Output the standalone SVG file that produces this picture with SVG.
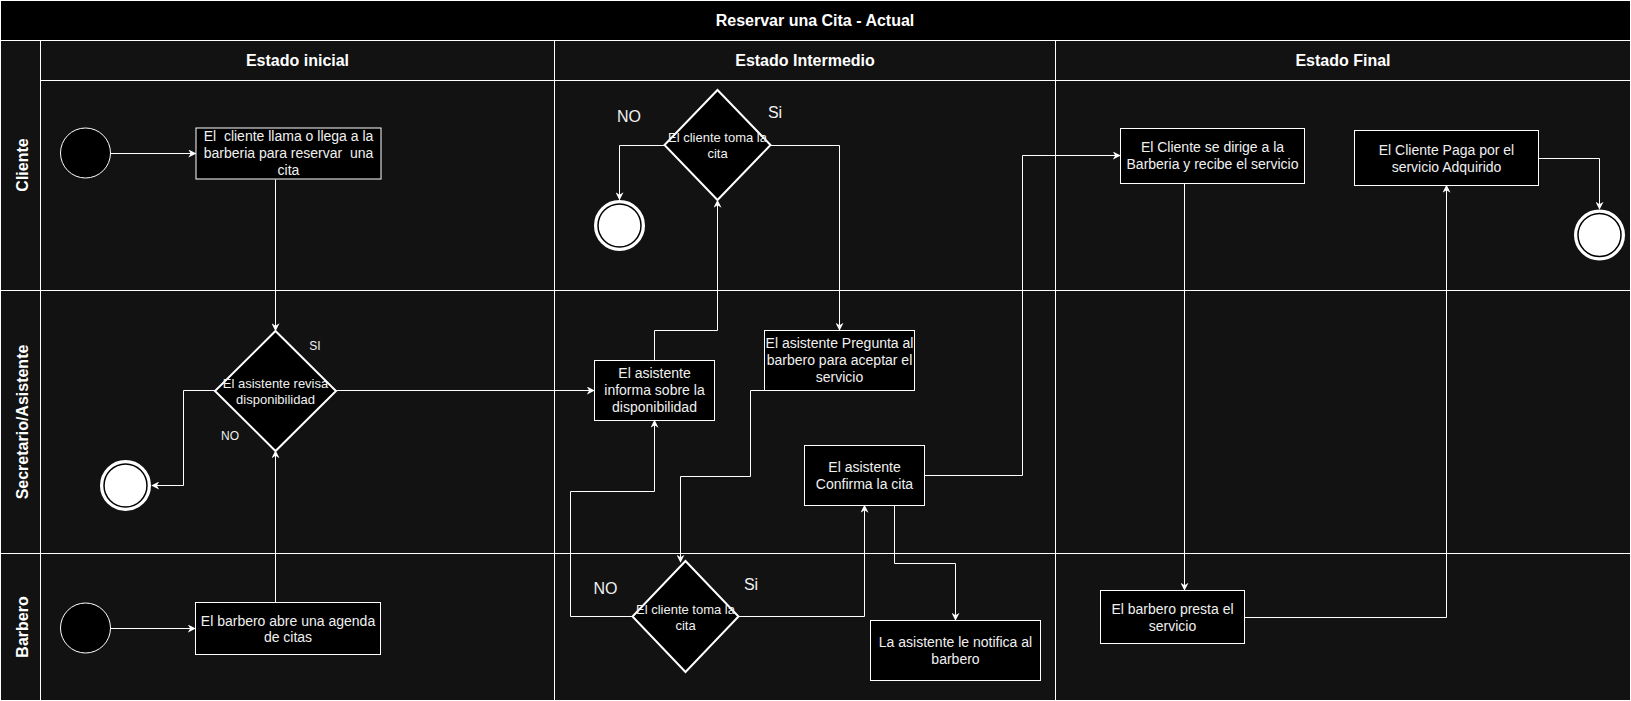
<svg xmlns="http://www.w3.org/2000/svg" width="1631" height="701" viewBox="0 0 1631 701">
<defs>
<style>
.lane{fill:none;stroke:#ffffff;stroke-width:1}
.hdr{font-family:"Liberation Sans",Arial,sans-serif;font-weight:bold;font-size:16px;fill:#ffffff;text-anchor:middle}
.box{fill:#000000;stroke:#ffffff;stroke-width:1}
.dia{fill:#000000;stroke:#ffffff;stroke-width:2}
.start{fill:#000000;stroke:#ffffff;stroke-width:1}
.t14{font-family:"Liberation Sans",Arial,sans-serif;font-size:14px;fill:#f0f0f0;text-anchor:middle}
.t13{font-family:"Liberation Sans",Arial,sans-serif;font-size:13px;fill:#f0f0f0;text-anchor:middle}
.t16{font-family:"Liberation Sans",Arial,sans-serif;font-size:16px;fill:#f0f0f0;text-anchor:middle}
.t12{font-family:"Liberation Sans",Arial,sans-serif;font-size:12px;fill:#f0f0f0;text-anchor:middle}
.edge{fill:none;stroke:#ffffff;stroke-width:1;marker-end:url(#arr)}
</style>
<marker id="arr" viewBox="0 0 10 10" refX="9" refY="5" markerWidth="8" markerHeight="8" markerUnits="userSpaceOnUse" orient="auto">
<path d="M0,0 L10,5 L0,10 L3,5 Z" fill="#ffffff"/>
</marker>
<g id="endstate">
<circle r="24.5" fill="#ffffff" stroke="#ffffff" stroke-width="2"/>
<circle r="21.5" fill="#ffffff" stroke="#000000" stroke-width="1.5"/>
</g>
</defs>

<g id="pool">
<rect x="0" y="0" width="1631" height="701" fill="#121212"/>
<rect x="0.5" y="0.5" width="1630" height="40" fill="#000000"/>
<rect class="lane" x="0.5" y="0.5" width="1630" height="700"/>
<line class="lane" x1="0" y1="40.5" x2="1631" y2="40.5"/>
<line class="lane" x1="40.5" y1="80.5" x2="1631" y2="80.5"/>
<line class="lane" x1="40.5" y1="40.5" x2="40.5" y2="701"/>
<line class="lane" x1="554.5" y1="40.5" x2="554.5" y2="701"/>
<line class="lane" x1="1055.5" y1="40.5" x2="1055.5" y2="701"/>
<line class="lane" x1="0" y1="290.5" x2="1631" y2="290.5"/>
<line class="lane" x1="0" y1="553.5" x2="1631" y2="553.5"/>
<text class="hdr" x="815" y="26">Reservar una Cita - Actual</text>
<text class="hdr" x="297.5" y="66">Estado inicial</text>
<text class="hdr" x="805" y="66">Estado Intermedio</text>
<text class="hdr" x="1343" y="66">Estado Final</text>
<text class="hdr" x="27.5" y="165" transform="rotate(-90 27.5 165)">Cliente</text>
<text class="hdr" x="27.5" y="422" transform="rotate(-90 27.5 422)">Secretario/Asistente</text>
<text class="hdr" x="27.5" y="627" transform="rotate(-90 27.5 627)">Barbero</text>
</g>

<g id="connectors">
<path class="edge" d="M110.5,153.5 L195.5,153.5"/>
<path class="edge" d="M275.5,179.5 L275.5,330.5"/>
<path class="edge" d="M110.5,628.5 L195,628.5"/>
<path class="edge" d="M275.5,602 L275.5,451"/>
<path class="edge" d="M215,390.5 L183.5,390.5 L183.5,485.5 L152,485.5"/>
<path class="edge" d="M336,390.5 L594,390.5"/>
<path class="edge" d="M654.5,360 L654.5,330.5 L717.5,330.5 L717.5,200.5"/>
<path class="edge" d="M664.5,145.5 L619.5,145.5 L619.5,199.5"/>
<path class="edge" d="M770.5,145.5 L839.5,145.5 L839.5,330"/>
<path class="edge" d="M764,390.5 L750.5,390.5 L750.5,476.5 L680.5,476.5 L680.5,562"/>
<path class="edge" d="M632.5,616.5 L570.5,616.5 L570.5,491.5 L654.5,491.5 L654.5,420.5"/>
<path class="edge" d="M738.5,616.5 L864.5,616.5 L864.5,505.5"/>
<path class="edge" d="M894.5,505.5 L894.5,563.5 L955.5,563.5 L955.5,620"/>
<path class="edge" d="M925,475.5 L1022.5,475.5 L1022.5,155.5 L1120,155.5"/>
<path class="edge" d="M1184.5,183.5 L1184.5,590"/>
<path class="edge" d="M1244.5,617.5 L1446.5,617.5 L1446.5,185.5"/>
<path class="edge" d="M1538.5,158.5 L1599.5,158.5 L1599.5,209"/>
<text class="t16" x="629" y="121.5">NO</text>
<text class="t16" x="775" y="118">Si</text>
<text class="t12" x="315" y="349.5">SI</text>
<text class="t12" x="230" y="439.5">NO</text>
<text class="t16" x="605.5" y="594">NO</text>
<text class="t16" x="751" y="590">Si</text>
</g>

<g id="start-cliente"><circle class="start" cx="85.5" cy="153" r="25"/></g>
<g id="start-barbero"><circle class="start" cx="85.5" cy="628" r="25"/></g>

<g id="cliente-llama">
<rect class="box" x="196" y="128" width="185" height="51"/>
<text class="t14" x="288.5" y="141" xml:space="preserve">El  cliente llama o llega a la</text>
<text class="t14" x="288.5" y="158" xml:space="preserve">barberia para reservar  una</text>
<text class="t14" x="288.5" y="175">cita</text>
</g>

<g id="revisa-disponibilidad">
<polygon class="dia" points="275.5,331 336,391 275.5,451 215,391"/>
<text class="t13" x="275.5" y="387.5">El asistente revisa</text>
<text class="t13" x="275.5" y="403.5">disponibilidad</text>
</g>

<g id="end-secretario"><use href="#endstate" x="125.5" y="485.5"/></g>

<g id="barbero-agenda">
<rect class="box" x="195.5" y="602.5" width="185" height="52"/>
<text class="t14" x="288" y="625.5">El barbero abre una agenda</text>
<text class="t14" x="288" y="642">de citas</text>
</g>

<g id="cliente-toma-1">
<polygon class="dia" points="717.5,90 770.5,145 717.5,200 664.5,145"/>
<text class="t13" x="717.5" y="142">El cliente toma la</text>
<text class="t13" x="717.5" y="158">cita</text>
</g>

<g id="end-cliente-1"><use href="#endstate" x="619.5" y="225.5"/></g>

<g id="informa">
<rect class="box" x="594.5" y="360.5" width="120" height="60"/>
<text class="t14" x="654.5" y="378">El asistente</text>
<text class="t14" x="654.5" y="395">informa sobre la</text>
<text class="t14" x="654.5" y="412">disponibilidad</text>
</g>

<g id="pregunta">
<rect class="box" x="764.5" y="330.5" width="150" height="60"/>
<text class="t14" x="839.5" y="348">El asistente Pregunta al</text>
<text class="t14" x="839.5" y="365">barbero para aceptar el</text>
<text class="t14" x="839.5" y="382">servicio</text>
</g>

<g id="confirma">
<rect class="box" x="804.5" y="445.5" width="120" height="60"/>
<text class="t14" x="864.5" y="472">El asistente</text>
<text class="t14" x="864.5" y="489">Confirma la cita</text>
</g>

<g id="cliente-toma-2">
<polygon class="dia" points="685.5,561 738.5,616.5 685.5,672 632.5,616.5"/>
<text class="t13" x="685.5" y="614">El cliente toma la</text>
<text class="t13" x="685.5" y="630">cita</text>
</g>

<g id="notifica">
<rect class="box" x="870.5" y="620.5" width="170" height="60"/>
<text class="t14" x="955.5" y="647">La asistente le notifica al</text>
<text class="t14" x="955.5" y="664">barbero</text>
</g>

<g id="barberia">
<rect class="box" x="1120.5" y="128.5" width="184" height="55"/>
<text class="t14" x="1212.5" y="152">El Cliente se dirige a la</text>
<text class="t14" x="1212.5" y="169">Barberia y recibe el servicio</text>
</g>

<g id="paga">
<rect class="box" x="1354.5" y="130.5" width="184" height="55"/>
<text class="t14" x="1446.5" y="155">El Cliente Paga por el</text>
<text class="t14" x="1446.5" y="172">servicio Adquirido</text>
</g>

<g id="end-final"><use href="#endstate" x="1599.5" y="235"/></g>

<g id="presta">
<rect class="box" x="1100.5" y="590.5" width="144" height="53"/>
<text class="t14" x="1172.5" y="614">El barbero presta el</text>
<text class="t14" x="1172.5" y="631">servicio</text>
</g>
</svg>
